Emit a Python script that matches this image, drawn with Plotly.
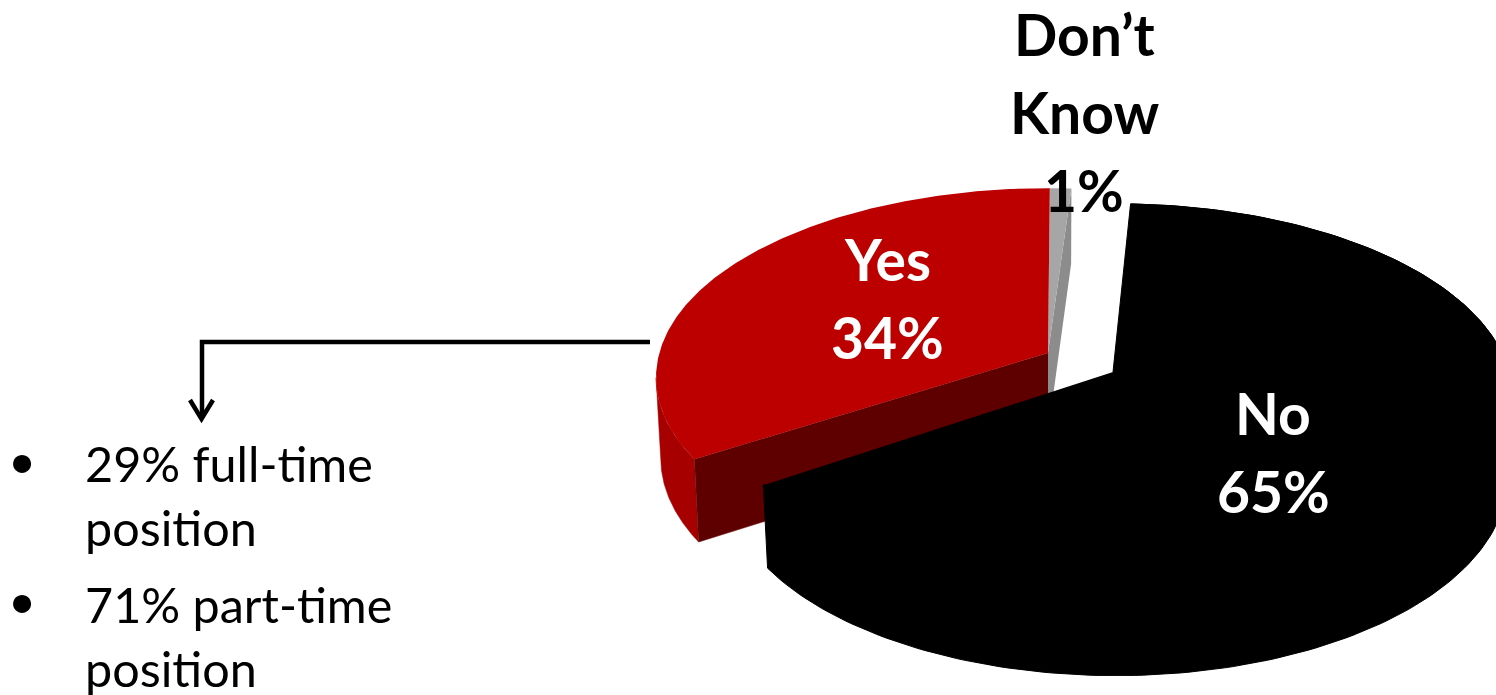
import numpy as np
import plotly.graph_objects as go

# Survey shares, in percent, in clockwise drawing order
categories = ["No", "Yes", "Don't Know"]
shares = [65, 34, 1]
first_slice_start_deg = 3.3  # clockwise from the far side of the disc

# Pulled-out slices: on-screen offset of the apex and radius scale
exploded = {"No": (0.0, 0.0, 1.0), "Yes": (-65.0, -19.0, 0.98), "Don't Know": (-65.0, -19.0, 0.98)}
# The pulled-out pair and the large slice are each turned very slightly
PULLED_ROTATION = 0.6
# The large slice sits a little right of the apex
NO_RIM_SHIFT, NO_FOCAL_X, NO_ROTATION = 3.0, 393.0, -0.9

# Perspective camera for the tilted disc
X0, Y0 = 1113.0, 372.0
FOCAL_X, FOCAL_Y, PERSP = 396.6, 190.0, 0.1296
DEPTH, DEPTH_PERSP, BOTTOM_SHRINK = 80.0, 0.0625, 0.988

TOP_RED, WALL_RED, CUT_RED = "#bc0000", "#a60000", "#5f0000"
TOP_GREY, CUT_GREY = "#a6a6a6", "#8c8c8c"


def rim(name, start, end, bottom=False):
    """Rim of a slice between two clockwise angles, top or bottom face."""
    th = np.radians(np.linspace(start, end, 200))
    u, v = np.sin(th), -np.cos(th)
    w = 1 - PERSP * v
    dx, dy, scale = exploded[name]
    focal = NO_FOCAL_X if name == "No" else FOCAL_X
    shift = NO_RIM_SHIFT if name == "No" else 0.0
    x = scale * focal * u / w + shift
    y = Y0 + dy + scale * FOCAL_Y * v / w
    if bottom:
        x = x * BOTTOM_SHRINK
        y = y + DEPTH / (1 - DEPTH_PERSP * v)
    return X0 + dx + x, y


def apex(name, bottom=False):
    dx, dy, _ = exploded[name]
    return np.array([X0 + dx]), np.array([Y0 + dy + (DEPTH if bottom else 0.0)])


def poly(fig, x, y, color, edge=0):
    fig.add_trace(go.Scatter(x=x, y=y, mode="lines", fill="toself", fillcolor=color,
                             line=dict(width=edge, color=color), hoverinfo="skip", showlegend=False))


# Slice angle ranges follow directly from the shares
spans, start = {}, first_slice_start_deg
for name, share in zip(categories, shares):
    turn = NO_ROTATION if name == "No" else PULLED_ROTATION
    spans[name] = (start + turn, start + share * 3.6 + turn)
    start += share * 3.6

fig = go.Figure()

# Don't Know slice: visible cut wall, then the top face
s, e = spans["Don't Know"]
ax, ay = apex("Don't Know")
bx, by = apex("Don't Know", True)
rx, ry = rim("Don't Know", s, e)
qx, qy = rim("Don't Know", s, e, True)
poly(fig, np.r_[ax, rx[-1], qx[-1], bx], np.r_[ay, ry[-1], qy[-1], by], CUT_GREY)
poly(fig, np.r_[ax, rx], np.r_[ay, ry], TOP_GREY)

# Yes slice: outer wall up to the widest point of the disc, cut wall, top face
s, e = spans["Yes"]
ax, ay = apex("Yes")
bx, by = apex("Yes", True)
rx, ry = rim("Yes", s, e)
wx, wy = rim("Yes", s, 262.5)
qx, qy = rim("Yes", s, 262.5, True)
poly(fig, np.r_[wx, qx[::-1]], np.r_[wy, qy[::-1]], WALL_RED, 0.5)
poly(fig, np.r_[ax, rx[0], qx[0], bx], np.r_[ay, ry[0], qy[0], by], CUT_RED, 0.5)
poly(fig, np.r_[ax, rx], np.r_[ay, ry], TOP_RED)

# No slice: outer wall and top face are both solid black
s, e = spans["No"]
ax, ay = apex("No")
rx, ry = rim("No", s, e)
qx, qy = rim("No", s, e, True)
poly(fig, np.r_[rx, qx[::-1]], np.r_[ry, qy[::-1]], "#000000", 1)
poly(fig, np.r_[ax, rx], np.r_[ay, ry], "#000000", 1)

# A stroke along the near rim closes the seam between wall and top face
near = np.where(-np.cos(np.radians(np.linspace(s, e, 200))) > 0)[0]
fig.add_trace(go.Scatter(x=rx[near], y=ry[near], mode="lines", line=dict(color="#000000", width=4),
                         hoverinfo="skip", showlegend=False))

# Text labels
FONT = "Lato"
annotations = []


def label(text, x, y, size, color="#000000", bold=False, anchor="center"):
    shown = f"<b>{text}</b>" if bold else text
    annotations.append(dict(x=x, y=y, xref="x", yref="y", text=shown, showarrow=False,
                            xanchor=anchor, yanchor="middle",
                            font=dict(family=FONT, size=size, color=color)))


LABEL_SIZE = 57
label("Don’t", 1084, 34, LABEL_SIZE, bold=True)
label("Know", 1084, 112, LABEL_SIZE, bold=True)
label("1%", 1084, 190, LABEL_SIZE, bold=True)
label("Yes", 887, 259, LABEL_SIZE, "#ffffff", True)
label("34%", 887, 337, LABEL_SIZE, "#ffffff", True)
label("No", 1273, 413, LABEL_SIZE, "#ffffff", True)
label("65%", 1273, 491, LABEL_SIZE, "#ffffff", True)

BODY_SIZE = 48.5
label("29% full-time", 83, 463, BODY_SIZE, anchor="left")
label("position", 83, 527, BODY_SIZE, anchor="left")
label("71% part-time", 83, 604, BODY_SIZE, anchor="left")
label("position", 83, 668, BODY_SIZE, anchor="left")
label("•", 22, 459, BODY_SIZE)
label("•", 22, 599, BODY_SIZE)

# Connector from the Yes slice down to its breakdown, with an open arrow head
shapes = [
    dict(type="path", path="M 650 342 L 202 342 L 202 418", line=dict(color="#000000", width=4.5)),
    dict(type="path", path="M 190 400 L 201.5 419 L 213 400", line=dict(color="#000000", width=4.5)),
]

fig.update_layout(
    width=1496, height=695, autosize=False,
    margin=dict(l=0, r=0, t=0, b=0),
    paper_bgcolor="#ffffff", plot_bgcolor="#ffffff",
    xaxis=dict(range=[0, 1496], visible=False, fixedrange=True),
    yaxis=dict(range=[695, 0], visible=False, fixedrange=True),
    annotations=annotations, shapes=shapes, showlegend=False,
)
fig.write_html("out.html", config={"displayModeBar": False})
